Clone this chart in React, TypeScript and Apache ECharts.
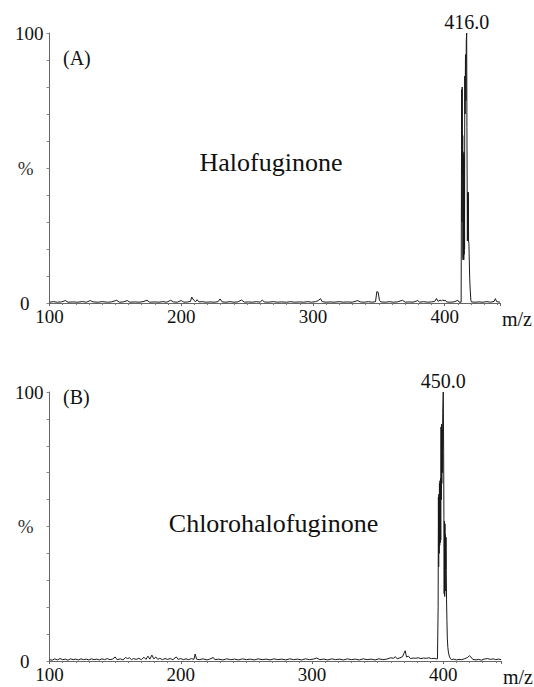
import React, { useEffect, useRef } from "react";
import * as echarts from "echarts";

// ---------- data (m/z, relative intensity %) ----------
const baselineA: [number, number][] = [
  [100, 0.3], [103, 0.5], [106, 0.3], [109, 0.4], [112, 0.9], [114, 0.3], [118, 0.4], [121, 0.3],
  [125, 0.5], [128, 0.3], [131, 0.9], [133, 0.4], [137, 0.3], [140, 0.5], [144, 0.3], [147, 0.4],
  [151, 1.0], [153, 0.3], [156, 0.4], [159, 0.9], [161, 0.3], [165, 0.4], [168, 0.3], [171, 0.5],
  [174, 1.0], [176, 0.3], [180, 0.4], [183, 0.3], [186, 0.5], [189, 0.3], [192, 1.0], [194, 0.4],
  [197, 0.3], [200, 0.9], [202, 0.3], [205, 0.4], [207, 0.6], [208, 2.2], [209.5, 1.0], [211, 0.5],
  [212, 1.2], [213.5, 0.4], [216, 0.5], [219, 0.3], [222, 0.4], [225, 0.3], [228, 0.5], [229.5, 1.5],
  [231, 0.4], [234, 0.3], [237, 0.5], [240, 0.3], [243, 0.4], [245.8, 1.1], [248, 0.3], [251, 0.4],
  [254, 0.3], [257, 0.5], [260, 0.3], [261.5, 1.1], [263, 0.4], [266, 0.3], [270, 0.5], [273, 0.3],
  [276, 0.4], [280, 0.3], [283, 0.5], [286, 0.3], [290, 0.4], [293, 0.3], [296, 0.5], [299, 0.3],
  [302, 0.5], [304, 0.9], [305.8, 1.6], [307, 0.5], [310, 0.3], [313, 0.4], [316, 0.3], [320, 0.5],
  [323, 0.3], [326, 0.4], [330, 0.3], [334, 0.9], [336, 0.4], [339, 0.3], [342, 0.5], [345, 0.3],
  [347.5, 0.5], [348.5, 4.2], [349.5, 4.0], [350.5, 1.0], [351.5, 0.4], [355, 0.3], [358, 0.5],
  [361, 0.3], [364, 0.4], [368, 1.0], [370, 0.3], [373, 0.4], [376, 0.3], [379.6, 0.9], [381, 0.3],
  [384, 0.5], [387, 0.3], [390, 0.4], [392.5, 0.6], [393.8, 1.7], [395, 0.6], [396.5, 1.1],
  [397.5, 0.7], [398.5, 1.2], [399.5, 0.8], [400.5, 1.0], [401.5, 0.4], [404, 0.3], [407, 0.4],
  [410, 1.0], [411, 0.3], [412.5, 0.3],
];
const peakA: [number, number][] = [
  [412.7, 0.5], [412.9, 79], [413.1, 30], [413.3, 80], [413.5, 48], [413.7, 62], [413.9, 16],
  [414.05, 55], [414.2, 17], [414.35, 55], [414.5, 16], [414.65, 56], [414.8, 18], [414.95, 54],
  [415.1, 20], [415.25, 84], [415.5, 70], [415.8, 92], [416.1, 75], [416.4, 97], [416.7, 100],
  [416.9, 65], [417.1, 41], [417.25, 23], [417.4, 41], [417.55, 24], [417.7, 40], [417.85, 23],
  [418.0, 41], [418.15, 23], [418.4, 22], [419.0, 9], [419.4, 4.8], [419.9, 1.0], [420.3, 0.4],
];
const tailA: [number, number][] = [
  [423, 0.3], [426, 0.4], [429, 0.3], [432, 0.5], [435, 0.3], [437.5, 0.6], [438.5, 1.6],
  [439.5, 0.5], [442, 0.3],
];

const baselineB: [number, number][] = [
  [100, 0.5], [102, 0.3], [104, 0.8], [106, 0.4], [108, 0.9], [110, 0.5], [112, 0.7], [114, 0.3],
  [116, 0.8], [118, 0.5], [120, 0.7], [122, 0.4], [124, 0.8], [126, 0.5], [128, 0.7], [130, 0.4],
  [132, 0.8], [134, 0.5], [136, 0.7], [138, 0.4], [140, 0.8], [142, 0.5], [144, 0.9], [146, 0.5],
  [148, 0.7], [150, 1.5], [151.5, 0.5], [154, 0.8], [156, 0.4], [158, 1.3], [159.5, 0.9], [161, 1.2],
  [162.5, 0.5], [164, 0.9], [166, 0.6], [168, 1.0], [170, 0.5], [172, 1.4], [173.5, 0.6], [175, 1.8],
  [176.5, 0.7], [178, 2.2], [179.5, 0.8], [181, 1.5], [182.5, 0.6], [184, 1.0], [186, 0.5], [188, 0.9],
  [190, 0.6], [192, 0.9], [194, 0.5], [196.6, 1.5], [198, 0.6], [200, 0.9], [202, 0.5], [204, 0.8],
  [206, 0.5], [208, 0.9], [210, 0.6], [211, 2.6], [212, 0.7], [214, 0.5], [217, 0.8], [220, 0.4],
  [222, 0.7], [224.8, 1.3], [226, 0.5], [229, 0.7], [232, 0.4], [235, 0.8], [238, 0.5], [241, 0.7],
  [244, 0.4], [247, 0.8], [250, 0.5], [253, 0.7], [256, 0.4], [259, 0.8], [262, 0.5], [265, 0.7],
  [268, 0.4], [271, 0.8], [274, 0.5], [277, 0.7], [280, 0.4], [283, 0.8], [286, 0.5], [289, 0.7],
  [292, 0.4], [295, 0.8], [298, 0.5], [301, 0.7], [303.6, 1.1], [306, 0.5], [309, 0.7], [312, 0.4],
  [315, 0.8], [318, 0.5], [321, 0.7], [324, 0.4], [327, 0.8], [330, 0.5], [333, 0.7], [336, 0.4],
  [339, 0.8], [342, 0.5], [345, 0.7], [348, 0.4], [351, 0.8], [354, 0.5], [357, 0.7], [360, 1.2],
  [362, 1.0], [363.5, 1.6], [365, 0.8], [367, 1.2], [369, 1.6], [370, 2.8], [371, 3.8], [372, 1.5],
  [373.5, 1.8], [375, 0.9], [377, 1.1], [379, 1.0], [381, 1.2], [383, 0.9], [385, 1.1], [387, 1.0],
  [389, 1.2], [391, 0.9], [393, 1.0], [395, 0.8],
];
const peakB: [number, number][] = [
  [395.6, 0.8], [395.9, 1.0], [396.1, 20], [396.3, 61], [396.5, 35], [396.7, 62], [396.9, 40],
  [397.1, 66], [397.3, 43], [397.5, 67], [397.7, 44], [397.9, 68], [398.1, 45], [398.3, 87],
  [398.5, 60], [398.7, 88], [398.9, 66], [399.1, 86], [399.3, 70], [399.6, 92], [400.0, 100],
  [400.3, 78], [400.5, 53], [400.7, 25], [400.9, 52], [401.1, 24], [401.3, 51], [401.5, 26],
  [401.7, 47], [401.9, 34], [402.1, 46], [402.3, 34], [402.5, 23], [402.8, 15], [403.1, 8.5],
  [403.5, 5], [404.0, 3], [404.8, 1.5], [405.6, 0.8], [406.4, 0.5],
];
const tailB: [number, number][] = [
  [408, 0.7], [410, 0.4], [412, 0.6], [414, 0.5], [416, 0.8], [418.5, 1.3], [420, 2.0], [421, 1.5],
  [422.5, 0.6], [425, 0.4], [427, 0.6], [429, 0.3], [431, 0.7], [433.6, 0.9], [436, 0.6], [438, 0.8],
  [440, 0.5], [442, 0.7], [444, 0.5],
];

const xTicks = [100, 200, 300, 400];
const xMaxA = 442;
const xMaxB = 444;
const panelLabels = ["(A)", "(B)"];
const compoundNames = ["Halofuginone", "Chlorohalofuginone"];
const peakLabels = ["416.0", "450.0"];
const peakCoords: [number, number][] = [[416.7, 100], [400.0, 100]];

const FONT = "'Liberation Serif', 'Times New Roman', serif";

export default function App() {
  const ref = useRef<HTMLDivElement>(null);
  useEffect(() => {
    if (!ref.current) return;
    const chart = echarts.init(ref.current, undefined, { renderer: "svg" });

    const xAxis = (idx: number, max: number) => ({
      type: "value",
      gridIndex: idx,
      min: 100,
      max,
      interval: 100,
      axisLine: { show: true, lineStyle: { color: "#666", width: 1 } },
      axisTick: { show: true, length: 3, lineStyle: { color: "#666" } },
      minorTick: { show: true, splitNumber: 10, length: 2, lineStyle: { color: "#777" } },
      splitLine: { show: false },
      axisLabel: {
        margin: 4,
        fontFamily: FONT,
        fontSize: 19,
        color: "#111",
        showMaxLabel: false,
        formatter: (v: number) => (xTicks.includes(v) ? String(v) : ""),
      },
      name: "m/z",
      nameLocation: "end",
      nameGap: 2,
      nameTextStyle: {
        fontFamily: FONT,
        fontSize: 20,
        color: "#111",
        align: "left",
        verticalAlign: "top",
        padding: [6, 0, 0, 0],
      },
    });

    const yAxis = (idx: number) => ({
      type: "value",
      gridIndex: idx,
      min: 0,
      max: 100,
      interval: 10,
      axisLine: { show: true, lineStyle: { color: "#666", width: 1 } },
      axisTick: { show: true, length: 3, lineStyle: { color: "#888" } },
      splitLine: { show: false },
      axisLabel: {
        margin: 6,
        fontFamily: FONT,
        fontSize: 19,
        color: "#111",
        formatter: (v: number) =>
          v === 100 ? "100" : v === 50 ? "{p|%}" : v === 0 ? "{z|0}" : "",
        rich: {
          p: { fontFamily: FONT, fontSize: 19, color: "#333", padding: [0, 10, 0, 0] },
          z: { fontFamily: FONT, fontSize: 19, color: "#111", padding: [0, 14, 0, 0] },
        },
      },
    });

    const series = (idx: number, data: [number, number][]) => ({
      type: "line",
      xAxisIndex: idx,
      yAxisIndex: idx,
      data,
      showSymbol: false,
      symbol: "none",
      lineStyle: { color: "#1a1a1a", width: 1 },
      markPoint: {
        symbol: "circle",
        symbolSize: 0,
        data: [{ coord: peakCoords[idx], value: peakLabels[idx] }],
        label: {
          show: true,
          position: "top",
          distance: 1,
          fontFamily: FONT,
          fontSize: 20,
          color: "#111",
          formatter: () => peakLabels[idx],
        },
      },
    });

    const option = {
      animation: false,
      backgroundColor: "#fff",
      grid: [
        { left: 49.5, top: 33, width: 450.5, height: 270 },
        { left: 49.5, top: 392, width: 453.5, height: 271 },
      ],
      xAxis: [xAxis(0, xMaxA), xAxis(1, xMaxB)],
      yAxis: [yAxis(0), yAxis(1)],
      series: [
        series(0, [...baselineA, ...peakA, ...tailA]),
        series(1, [...baselineB, ...peakB, ...tailB]),
      ],
      graphic: [
        {
          type: "text",
          left: 63,
          top: 48,
          style: { text: panelLabels[0], font: `20px ${FONT}`, fill: "#111" },
        },
        {
          type: "text",
          left: 63,
          top: 387,
          style: { text: panelLabels[1], font: `20px ${FONT}`, fill: "#111" },
        },
        {
          type: "text",
          x: 271,
          y: 162,
          style: {
            text: compoundNames[0],
            font: `26px ${FONT}`,
            fill: "#111",
            align: "center",
            verticalAlign: "middle",
          },
        },
        {
          type: "text",
          x: 273.5,
          y: 523,
          style: {
            text: compoundNames[1],
            font: `26px ${FONT}`,
            fill: "#111",
            align: "center",
            verticalAlign: "middle",
          },
        },
      ],
    };
    chart.setOption(option as any);
    return () => chart.dispose();
  }, []);
  return (
    <div
      ref={ref}
      style={{ position: "fixed", left: 0, top: 0, width: 534, height: 687, background: "#fff" }}
    />
  );
}
